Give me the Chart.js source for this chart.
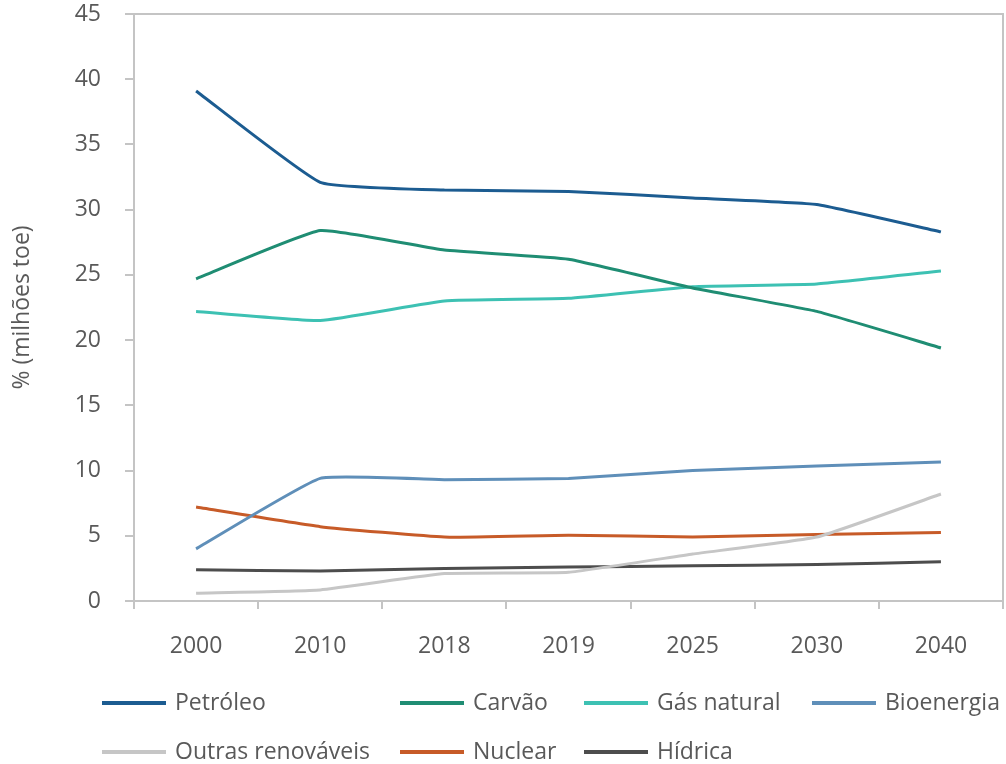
<!DOCTYPE html>
<html><head><meta charset="utf-8">
<script src="https://cdn.jsdelivr.net/npm/chart.js@4.4.1/dist/chart.umd.min.js"></script>
<style>html,body{margin:0;padding:0;background:#fff}#wrap{width:1006px;height:764px;position:relative}</style>
</head><body><div id="wrap"><canvas id="c"></canvas></div>
<script>
const years = ['2000','2010','2018','2019','2025','2030','2040'];
const petroleo = [39.1,32.1,31.5,31.4,30.9,30.4,28.3];
const carvao = [24.7,28.4,26.9,26.2,24.0,22.2,19.4];
const gasNatural = [22.2,21.5,23.0,23.2,24.1,24.3,25.3];
const bioenergia = [4.0,9.4,9.3,9.4,10.0,10.35,10.65];
const outrasRenovaveis = [0.6,0.85,2.1,2.2,3.6,4.9,8.2];
const nuclear = [7.2,5.7,4.9,5.05,4.9,5.1,5.25];
const hidrica = [2.4,2.3,2.5,2.6,2.7,2.8,3.0];
const seriesNames = ['Petróleo','Carvão','Gás natural','Bioenergia','Outras renováveis','Nuclear','Hídrica'];
const seriesColors = ['#1c5c91','#1f8d73','#3dc1b3','#5f8fb9','#c6c6c6','#c75b28','#4d4d4d'];

const FONT = "'Open Sans', sans-serif";
const TXT = '#595959';
const AX = '#c4c4c4';

const allData = [petroleo,carvao,gasNatural,bioenergia,outrasRenovaveis,nuclear,hidrica];
const datasets = allData.map((d,i)=>({
  label: seriesNames[i], data: d, borderColor: seriesColors[i], backgroundColor: seriesColors[i],
  borderWidth: 3, pointRadius: 0, tension: 0.12, fill: false
}));

const boxPlugin = {
  id:'box',
  afterDraw(chart){
    const {ctx, chartArea:a} = chart;
    ctx.save();
    ctx.strokeStyle = AX; ctx.lineWidth = 2;
    ctx.beginPath();
    ctx.moveTo(a.left, a.top); ctx.lineTo(a.right, a.top); ctx.lineTo(a.right, a.bottom);
    ctx.stroke();
    ctx.restore();
  }
};

const legendCols = [102, 400, 584, 812];
const legendRows = [703, 752];
const legendPlugin = {
  id:'gridLegend',
  afterDraw(chart){
    const ctx = chart.ctx;
    ctx.save();
    ctx.font = "23px " + FONT;
    ctx.textBaseline = 'middle';
    ctx.textAlign = 'left';
    chart.data.datasets.forEach((ds,i)=>{
      const r = i < 4 ? 0 : 1;
      const c = i < 4 ? i : i - 4;
      const x = legendCols[c], y = legendRows[r];
      ctx.strokeStyle = ds.borderColor; ctx.lineWidth = 4;
      ctx.beginPath(); ctx.moveTo(x, y); ctx.lineTo(x + 64, y); ctx.stroke();
      ctx.fillStyle = TXT;
      ctx.fillText(ds.label, x + 73, y);
    });
    ctx.restore();
  }
};

new Chart(document.getElementById('c'), {
  type:'line',
  data:{ labels: years, datasets },
  options:{
    responsive:true, maintainAspectRatio:false, animation:false,
    layout:{ padding:{ left:0, top:14, right:3, bottom:0 } },
    plugins:{ legend:{ display:false }, tooltip:{ enabled:false } },
    scales:{
      x:{
        offset:true,
        grid:{ offset:true, drawOnChartArea:false, tickLength:8, color:AX, lineWidth:2 },
        border:{ color:AX, width:2 },
        ticks:{ color:TXT, font:{ family:FONT, size:23 }, padding:24, maxRotation:0 },
        afterFit(s){ s.height = 163; s.paddingLeft = 0; s.paddingRight = 0; }
      },
      y:{
        min:0, max:45,
        grid:{ drawOnChartArea:false, tickLength:9, color:AX, lineWidth:2 },
        border:{ color:AX, width:2 },
        ticks:{ stepSize:5, color:TXT, font:{ family:FONT, size:23 }, padding:24 },
        title:{ display:true, text:'% (milhões toe)', color:TXT, font:{ family:FONT, size:23 }, padding:{ top:9, bottom:0 } },
        afterFit(s){ s.width = 134; s.paddingTop = 0; s.paddingBottom = 0; }
      }
    }
  },
  plugins:[boxPlugin, legendPlugin]
});
</script></body></html>
